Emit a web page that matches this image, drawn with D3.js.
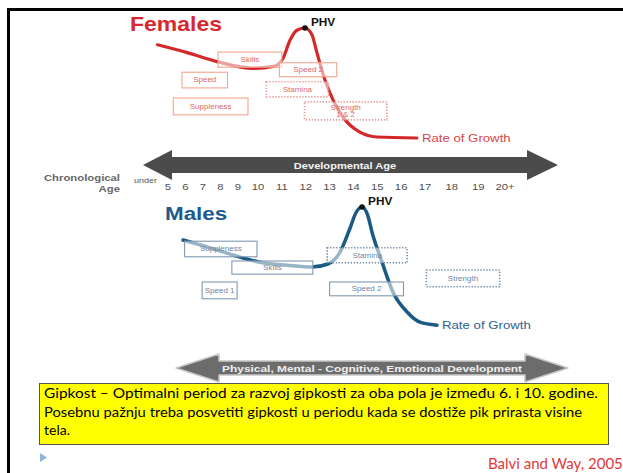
<!DOCTYPE html>
<html>
<head>
<meta charset="utf-8">
<script src="https://cdn.jsdelivr.net/npm/d3@7"></script>
<style>
  html, body { margin: 0; padding: 0; background: #fff; }
  svg { display: block; }
</style>
</head>
<body>
<svg id="chart" width="623" height="473"></svg>
<script>
// chronological age axis
const ageTicks = [5, 6, 7, 8, 9, 10, 11, 12, 13, 14, 15, 16, 17, 18, 19, 20];
const ageLabels = ["5", "6", "7", "8", "9", "10", "11", "12", "13", "14", "15", "16", "17", "18", "19", "20+"];

// rate of growth curves (age, relative rate 0..10)
const femaleAge  = [4.4, 6.1, 7.8, 9.75, 10.7, 11.05, 11.34, 11.63, 11.97, 12.26, 12.47, 12.8, 13.14, 13.56, 14.27, 14.99, 16.66];
const femaleRate = [8.5, 7.8, 7.0, 6.4, 6.6, 7.3, 8.9, 9.8, 10, 9.4, 7.8, 5.4, 3.6, 2.05, 0.7, 0.27, 0.18];
const maleAge  = [5.86, 7.4, 8.71, 10.08, 11.22, 12.26, 12.93, 13.44, 13.86, 14.1, 14.36, 14.6, 14.78, 15.2, 15.66, 16.25, 16.79, 17.45];
const maleRate = [7.25, 6.6, 6.0, 5.4, 5.15, 5.0, 5.25, 6.25, 8.25, 9.5, 10, 9.3, 7.9, 5.4, 2.9, 1.25, 0.4, 0.15];

// training windows: name, age from/to, rate band top/bottom, dotted outline
const femaleWin     = ["Skills", "Speed", "Suppleness", "Speed 2", "Stamina", "Strength|1 & 2"];
const femaleWinFrom = [7.86, 5.8, 5.3, 10.9, 10.35, 11.95];
const femaleWinTo   = [11.0, 8.4, 9.5, 13.3, 12.95, 15.4];
const femaleWinTop  = [7.85, 6.05, 3.75, 6.9, 5.2, 3.4];
const femaleWinBot  = [6.5, 4.65, 2.25, 5.65, 3.85, 1.8];
const femaleDotted  = [false, false, false, false, true, true];

const maleWin     = ["Suppleness", "Skills", "Speed 1", "Stamina", "Speed 2", "Strength"];
const maleWinFrom = [5.95, 8.65, 6.95, 12.9, 13.0, 17.05];
const maleWinTo   = [9.95, 12.3, 8.95, 16.25, 16.1, 19.8];
const maleWinTop  = [7.15, 5.5, 3.75, 6.6, 3.75, 4.75];
const maleWinBot  = [5.85, 4.4, 2.35, 5.35, 2.6, 3.35];
const maleDotted  = [false, false, false, true, false, true];

const noteLines = [
  "Gipkost – Optimalni period za razvoj gipkosti za oba pola je između 6. i 10. godine.",
  "Posebnu pažnju treba posvetiti gipkosti u periodu kada se dostiže pik prirasta visine",
  "tela."
];

const svg = d3.select("#chart");
const SANS = "'Liberation Sans', Arial, sans-serif";
const S = 1.18; // the slide is stretched sideways, text too

// age -> x follows the spacing of the printed age labels
const x = d3.scaleLinear().domain([5, 9, 10, 17, 20]).range([168, 238, 258, 425, 505]);
const yF = d3.scaleLinear().domain([0, 10]).range([140, 28]);
const yM = d3.scaleLinear().domain([0, 10]).range([327, 207]);

function txt(g, px, py, str, size, fill, weight, anchor) {
  return g.append("text")
    .attr("transform", `translate(${px},${py}) scale(${S},1)`)
    .attr("font-family", SANS).attr("font-size", size)
    .attr("font-weight", weight || "normal")
    .attr("fill", fill).attr("text-anchor", anchor || "start")
    .text(str);
}

// slide frame
svg.append("line").attr("x1", 7).attr("x2", 623).attr("y1", 9.5).attr("y2", 9.5)
  .attr("stroke", "#000").attr("stroke-width", 3);
svg.append("line").attr("x1", 8.5).attr("x2", 8.5).attr("y1", 8).attr("y2", 473)
  .attr("stroke", "#000").attr("stroke-width", 3);

function panel(ages, rates, y, color, win, from, to, top, bot, dotted, st) {
  const g = svg.append("g");
  const pts = ages.map((a, i) => [x(a), y(rates[i])]);
  const line = d3.line().curve(d3.curveMonotoneX);
  g.append("path").attr("d", line(pts)).attr("fill", "none")
    .attr("stroke", color).attr("stroke-width", st.lw).attr("stroke-linecap", "round");

  win.forEach((name, i) => {
    const x0 = x(from[i]), x1 = x(to[i]), y0 = y(top[i]), y1 = y(bot[i]);
    g.append("rect").attr("x", x0).attr("y", y0).attr("width", x1 - x0).attr("height", y1 - y0)
      .attr("fill", "#fff").attr("fill-opacity", 0.55)
      .attr("stroke", dotted[i] ? st.dot : st.box)
      .attr("stroke-width", dotted[i] ? 1.6 : 1.1)
      .attr("stroke-dasharray", dotted[i] ? "1.3,1.7" : null);
    const parts = name.split("|");
    const cy = (y0 + y1) / 2;
    parts.forEach((p, j) => {
      const dy = (j - (parts.length - 1) / 2) * 7;
      txt(g, (x0 + x1) / 2, cy + dy + 2.4, p, 6.8, st.text, "normal", "middle");
    });
  });

  // peak height velocity
  const pk = d3.maxIndex(rates);
  g.append("circle").attr("cx", x(ages[pk])).attr("cy", y(rates[pk])).attr("r", 2.8).attr("fill", "#111");
  txt(g, x(ages[pk]) + 6, y(rates[pk]) - 2, "PHV", 10, "#111", "bold");

  const last = ages.length - 1;
  txt(g, x(ages[last]) + 5, y(rates[last]) + 4, "Rate of Growth", 11.2, st.rog);
  return g;
}

const fem = panel(femaleAge, femaleRate, yF, "#d4282b", femaleWin, femaleWinFrom, femaleWinTo,
  femaleWinTop, femaleWinBot, femaleDotted,
  { lw: 3.2, box: "#f0a78f", dot: "#e69a9a", text: "#e06868", rog: "#d6464a" });
txt(fem, 130, 31, "Females", 19.5, "#d7282f", "bold");

const mal = panel(maleAge, maleRate, yM, "#1b5a84", maleWin, maleWinFrom, maleWinTo,
  maleWinTop, maleWinBot, maleDotted,
  { lw: 3.5, box: "#8099b3", dot: "#6f8aa6", text: "#6d87a2", rog: "#2a6290" });
txt(mal, 165, 220, "Males", 19, "#1d5a8c", "bold");

// double arrows
function arrow(tipL, baseL, baseR, tipR, cy, band, head, fill, stroke) {
  const pts = [[tipL, cy], [baseL, cy - head], [baseL, cy - band], [baseR, cy - band], [baseR, cy - head],
    [tipR, cy], [baseR, cy + head], [baseR, cy + band], [baseL, cy + band], [baseL, cy + head]];
  svg.append("polygon").attr("points", pts.map(p => p.join(",")).join(" "))
    .attr("fill", fill).attr("stroke", stroke || "none").attr("stroke-width", 1.5)
    .attr("stroke-linejoin", "round");
}

arrow(143, 172, 527, 558, 165, 8, 15, "#4b4b4b");
txt(svg, 345, 168.5, "Developmental Age", 9.4, "#f4f4f4", "bold", "middle");

// age axis labels
const ax = svg.append("g");
ageTicks.forEach((a, i) => txt(ax, x(a), 190, ageLabels[i], 9.6, "#505050", "normal", "middle"));
txt(ax, 157, 183, "under", 7.6, "#555", "normal", "end");
txt(ax, 120, 181, "Chronological", 9.6, "#666", "bold", "end");
txt(ax, 120, 192, "Age", 9.6, "#666", "bold", "end");

arrow(176, 219, 525, 568, 368, 7, 14, "#6c6c6c", "#c8c8c8");
txt(svg, 372, 371.5, "Physical, Mental - Cognitive, Emotional Development", 9, "#eeeeee", "bold", "middle")
  .attr("textLength", 300 / S).attr("lengthAdjust", "spacingAndGlyphs");

// note box
svg.append("rect").attr("x", 39.5).attr("y", 383.5).attr("width", 569).attr("height", 61)
  .attr("fill", "#ffff00").attr("stroke", "#555").attr("stroke-width", 1);
const noteW = [554, 538, null];
noteLines.forEach((l, i) => {
  const t = svg.append("text").attr("x", 44).attr("y", 398 + i * 18.5)
    .attr("font-family", "Lato, 'Open Sans', sans-serif").attr("font-size", 14)
    .attr("fill", "#000").text(l);
  if (noteW[i]) t.attr("textLength", noteW[i]).attr("lengthAdjust", "spacingAndGlyphs");
});

svg.append("polygon").attr("points", "40,453 47,457.5 40,462").attr("fill", "#8fb3df");
svg.append("text").attr("x", 488).attr("y", 469)
  .attr("font-family", "Lato, 'Open Sans', sans-serif").attr("font-size", 15)
  .attr("fill", "#e3383a").text("Balvi and Way, 2005");
</script>
</body>
</html>
